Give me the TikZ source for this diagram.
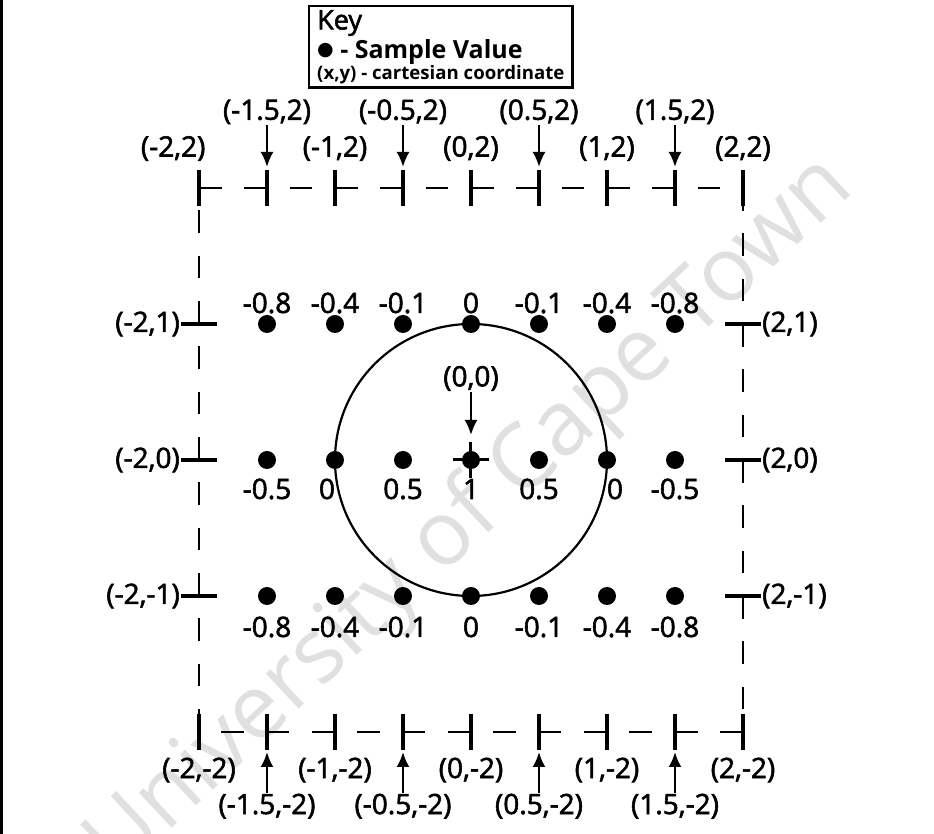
\documentclass[tikz,border=0pt]{standalone}
\usepackage{fontspec}
\setmainfont{Open Sans}
\newfontfamily\labelfont{Open Sans}[FakeBold=2]
\newfontfamily\symfont{DejaVu Sans}
\usetikzlibrary{arrows.meta,calc}
\tikzset{
  smp/frame/.style={draw=black, line width=2.6pt, dash pattern=on 22.67pt off 22.67pt},
  smp/tick/.style={draw=black, line width=4.5pt},
  smp/ring/.style={draw=black, line width=2.2pt},
  smp/dot/.style={circle, fill=black, inner sep=0pt, minimum size=18pt},
  smp/val/.style={inner sep=1pt, font=\labelfont\fontsize{28}{30}\selectfont},
  smp/coord/.style={inner sep=1pt, font=\labelfont\fontsize{28}{30}\selectfont},
  smp/arrow/.style={-{Latex[length=15pt,width=13pt]}, line width=2.2pt, draw=black},
  smp/key/.style={draw=black, line width=2.4pt, align=left, inner xsep=8pt, inner ysep=4pt},
  smp/mark/.style={rotate=43, text=black!12, font=\fontsize{90}{96}\selectfont}
}

\begin{document}
\begin{tikzpicture}[x=136pt,y=136pt]
  \useasboundingbox (-471pt,-374pt) rectangle (463pt,460pt);
  % watermark and page rule
  \node[smp/mark] (wm) at (0.0,-0.42) {University of Cape Town};
  \draw[line width=3pt] (-469.5pt,-374pt) -- (-469.5pt,460pt);

  % key
  \node[smp/key, anchor=north west] (key) at (-163pt,455pt)
    {{\labelfont\fontsize{27}{28}\selectfont Key}\\[3pt]
     {\fontsize{25}{27}\selectfont\bfseries\raisebox{3pt}{\symfont\fontsize{19}{20}\selectfont ●} - Sample Value}\\[-1pt]
     {\fontsize{18.6}{20}\selectfont\bfseries (x,y) - cartesian coordinate}};

  % dashed square and ticks
  \draw[smp/frame] (-2,2) -- (2,2) -- (2,-2) -- (-2,-2) -- cycle;
  \foreach \x in {-2,-1.5,...,2}{
    \draw[smp/tick] ([yshift=-18pt]\x,2) -- ([yshift=18pt]\x,2);
    \draw[smp/tick] ([yshift=-18pt]\x,-2) -- ([yshift=18pt]\x,-2);
  }
  \foreach \y in {1,0,-1}{
    \draw[smp/tick] ([xshift=-18pt]-2,\y) -- ([xshift=18pt]-2,\y);
    \draw[smp/tick] ([xshift=-18pt]2,\y) -- ([xshift=18pt]2,\y);
  }

  % unit circle
  \draw[smp/ring] (0,0) circle (1);

  % sample values
  \foreach \v [count=\i] in {-0.8,-0.4,-0.1,0,-0.1,-0.4,-0.8}{
    \node[smp/dot] (a\i) at ({(\i-4)/2},1) {};
    \node[smp/val] (va\i) at ([yshift=21pt]a\i) {\v};
  }
  \foreach \v/\s [count=\i] in {-0.5/0,0/-8,0.5/0,1/0,0.5/0,0/8,-0.5/0}{
    \node[smp/dot] (b\i) at ({(\i-4)/2},0) {};
    \node[smp/val] (vb\i) at ([xshift=\s pt,yshift=-29pt]b\i) {\v};
  }
  \foreach \v [count=\i] in {-0.8,-0.4,-0.1,0,-0.1,-0.4,-0.8}{
    \node[smp/dot] (c\i) at ({(\i-4)/2},-1) {};
    \node[smp/val] (vc\i) at ([yshift=-31pt]c\i) {\v};
  }

  % origin
  \draw[smp/tick, line width=3pt] ([xshift=-18pt]b4.center) -- ([xshift=18pt]b4.center);
  \draw[smp/tick, line width=3pt] ([yshift=-18pt]b4.center) -- ([yshift=18pt]b4.center);
  \node[smp/coord] (org) at (0,0.6) {(0,0)};
  \coordinate (orgp) at ([yshift=25pt]0,0);
  \draw[smp/arrow] (org) -- (orgp);

  % top labels
  \node[smp/coord] (tl1) at (-2.19,2.29) {(-2,2)};
  \node[smp/coord] (tl2) at (-1,2.29) {(-1,2)};
  \node[smp/coord] (tl3) at (0,2.29) {(0,2)};
  \node[smp/coord] (tl4) at (1,2.29) {(1,2)};
  \node[smp/coord] (tl5) at (2,2.29) {(2,2)};
  \node[smp/coord] (th1) at (-1.5,2.56) {(-1.5,2)};
  \node[smp/coord] (th2) at (-0.5,2.56) {(-0.5,2)};
  \node[smp/coord] (th3) at (0.5,2.56) {(0.5,2)};
  \node[smp/coord] (th4) at (1.5,2.56) {(1.5,2)};
  \coordinate (tp1) at ([yshift=21pt]-1.5,2);
  \coordinate (tp2) at ([yshift=21pt]-0.5,2);
  \coordinate (tp3) at ([yshift=21pt]0.5,2);
  \coordinate (tp4) at ([yshift=21pt]1.5,2);
  \draw[smp/arrow] (th1) -- (tp1);
  \draw[smp/arrow] (th2) -- (tp2);
  \draw[smp/arrow] (th3) -- (tp3);
  \draw[smp/arrow] (th4) -- (tp4);

  % bottom labels
  \node[smp/coord] (bl1) at (-2,-2.28) {(-2,-2)};
  \node[smp/coord] (bl2) at (-1,-2.28) {(-1,-2)};
  \node[smp/coord] (bl3) at (0,-2.28) {(0,-2)};
  \node[smp/coord] (bl4) at (1,-2.28) {(1,-2)};
  \node[smp/coord] (bl5) at (2,-2.28) {(2,-2)};
  \node[smp/coord] (bh1) at (-1.5,-2.545) {(-1.5,-2)};
  \node[smp/coord] (bh2) at (-0.5,-2.545) {(-0.5,-2)};
  \node[smp/coord] (bh3) at (0.5,-2.545) {(0.5,-2)};
  \node[smp/coord] (bh4) at (1.5,-2.545) {(1.5,-2)};
  \coordinate (bp1) at ([yshift=-20pt]-1.5,-2);
  \coordinate (bp2) at ([yshift=-20pt]-0.5,-2);
  \coordinate (bp3) at ([yshift=-20pt]0.5,-2);
  \coordinate (bp4) at ([yshift=-20pt]1.5,-2);
  \draw[smp/arrow] (bh1) -- (bp1);
  \draw[smp/arrow] (bh2) -- (bp2);
  \draw[smp/arrow] (bh3) -- (bp3);
  \draw[smp/arrow] (bh4) -- (bp4);

  % side labels
  \node[smp/coord, anchor=east] (ll1) at ([xshift=-18pt]-2,1) {(-2,1)};
  \node[smp/coord, anchor=east] (ll2) at ([xshift=-18pt]-2,0) {(-2,0)};
  \node[smp/coord, anchor=east] (ll3) at ([xshift=-18pt]-2,-1) {(-2,-1)};
  \node[smp/coord, anchor=west] (rl1) at ([xshift=18pt]2,1) {(2,1)};
  \node[smp/coord, anchor=west] (rl2) at ([xshift=18pt]2,0) {(2,0)};
  \node[smp/coord, anchor=west] (rl3) at ([xshift=18pt]2,-1) {(2,-1)};
\end{tikzpicture}
\end{document}
